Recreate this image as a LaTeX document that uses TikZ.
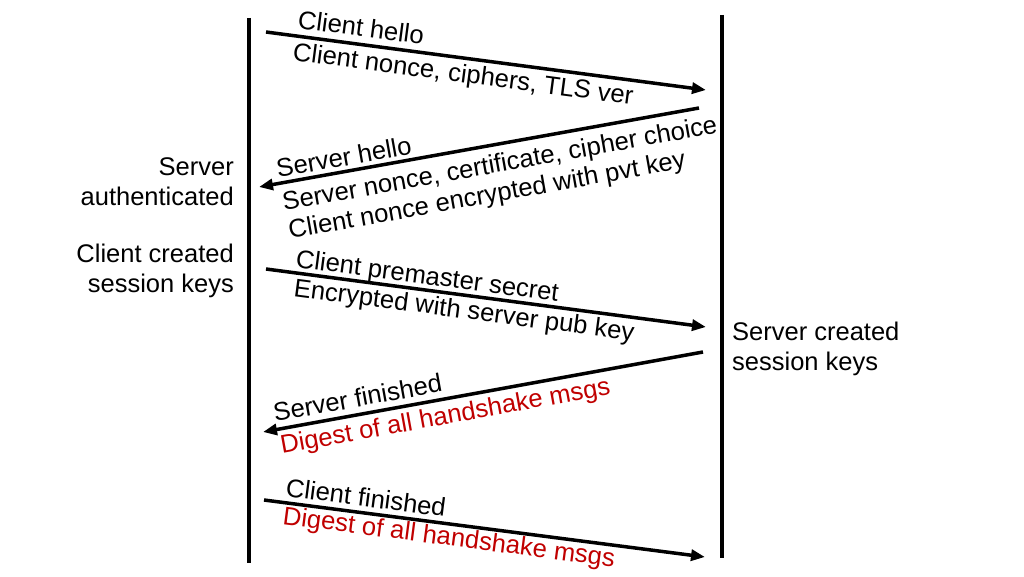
\documentclass[tikz,border=0pt]{standalone}
\usepackage{fontspec}
\setmainfont{Liberation Sans}
\usetikzlibrary{arrows.meta}
\definecolor{dred}{RGB}{192,0,0}
\begin{document}
\begin{tikzpicture}[x=1pt,y=1pt,
  lifeline/.style={line width=4pt},
  msg/.style={line width=3.5pt,-{Triangle[length=14pt,width=11pt]}},
  lbl/.style={inner sep=0pt,anchor=base west,font=\fontsize{25.6}{30}\selectfont},
  side/.style={inner sep=0pt,font=\fontsize{25.5}{30}\selectfont},
  rtext/.style={text=dred}]
\useasboundingbox (0,0) rectangle (1024,576);
% lifelines
\coordinate (Ltop) at (249,558);
\coordinate (Lbot) at (249,13);
\coordinate (Rtop) at (722,561);
\coordinate (Rbot) at (722,18);
\draw[lifeline] (Ltop) -- (Lbot);
\draw[lifeline] (Rtop) -- (Rbot);
% message end points
\coordinate (a1s) at (266,544); \coordinate (a1e) at (706,486);
\coordinate (a2s) at (699,468); \coordinate (a2e) at (259,389);
\coordinate (a3s) at (266,307); \coordinate (a3e) at (706,249);
\coordinate (a4s) at (703,224); \coordinate (a4e) at (263,144);
\coordinate (a5s) at (264,76);  \coordinate (a5e) at (705,19);
\draw[msg] (a1s) -- (a1e);
\draw[msg] (a2s) -- (a2e);
\draw[msg] (a3s) -- (a3e);
\draw[msg] (a4s) -- (a4e);
\draw[msg] (a5s) -- (a5e);
% labels
\node[lbl,rotate=-7.5] (t1a) at (297,548) {Client hello};
\node[lbl,rotate=-7.5] (t1b) at (292,516) {Client nonce, ciphers, TLS ver};
\node[lbl,rotate=10.2] (t2a) at (278,398) {Server hello};
\node[lbl,rotate=10.2] (t2b) at (284,365) {Server nonce, certificate, cipher choice};
\node[lbl,rotate=10.2] (t2c) at (290,337) {Client nonce encrypted with pvt key};
\node[lbl,rotate=-7.5] (t3a) at (295,309) {Client premaster secret};
\node[lbl,rotate=-7.5] (t3b) at (293,280) {Encrypted with server pub key};
\node[lbl,rotate=10.3] (t4a) at (275,154) {Server finished};
\node[lbl,rotate=10.3,rtext] (t4b) at (282,122) {Digest of all handshake msgs};
\node[lbl,rotate=-7.4] (t5a) at (285,80) {Client finished};
\node[lbl,rotate=-7.4,rtext] (t5b) at (282,52) {Digest of all handshake msgs};
% side notes
\node[side,anchor=base east] (s1a) at (234,400) {Server};
\node[side,anchor=base east] (s1b) at (234,370) {authenticated};
\node[side,anchor=base east] (s2a) at (234,313) {Client created};
\node[side,anchor=base east] (s2b) at (234,283) {session keys};
\node[side,anchor=base west] (s3a) at (732,236) {Server created};
\node[side,anchor=base west] (s3b) at (732,206) {session keys};
\end{tikzpicture}
\end{document}
